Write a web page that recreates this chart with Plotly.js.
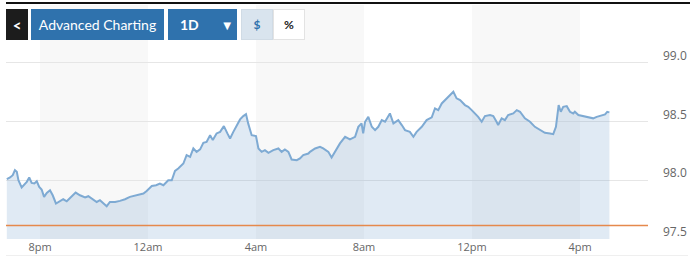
<!DOCTYPE html>
<html>
<head>
<meta charset="utf-8">
<script src="https://cdn.plot.ly/plotly-3.0.1.min.js"></script>
<style>
  html, body { margin: 0; padding: 0; background: #ffffff; }
  #wrap { position: relative; width: 700px; height: 262px; overflow: hidden; }
  #chart { position: absolute; left: 0; top: 0; width: 700px; height: 262px; }
  .bar { position: absolute; box-sizing: border-box; font-family: Lato, "Open Sans", sans-serif; display: flex; align-items: center; justify-content: center; }
  #topline { position: absolute; left: 6px; top: 2px; width: 684px; height: 2px; background: #111; }
  #botline { position: absolute; left: 6px; top: 255px; width: 682px; height: 1px; background: #efefef; }
</style>
</head>
<body>
<div id="wrap">
  <div id="chart"></div>
  <div id="topline"></div>
  <div id="botline"></div>
  <div class="bar" style="left:6px;top:9px;width:22px;height:31px;background:#1c1c1c;color:#fff;font-size:15px;font-weight:bold;">&lt;</div>
  <div class="bar" style="left:31px;top:9px;width:133px;height:31px;background:#2f72ad;color:#fff;font-size:14px;">Advanced Charting</div>
  <div class="bar" style="left:168px;top:9px;width:69px;height:31px;background:#2f72ad;color:#fff;font-size:14px;font-weight:bold;justify-content:flex-start;padding-left:12px;">1D<span style="font-size:13px;margin-left:22px;">&#9660;</span></div>
  <div class="bar" style="left:241px;top:9px;width:32px;height:31px;background:#d9e4ee;border:1px solid #d0dbe5;color:#2f72ad;font-size:12px;font-weight:bold;">$</div>
  <div class="bar" style="left:273px;top:9px;width:32px;height:31px;background:#ffffff;border:1px solid #e3e3e3;color:#222;font-size:12px;font-weight:bold;">%</div>
</div>
<script>
// Time in hours since midnight of the first day (20 = 8pm, 24 = 12am, ... 40 = 4pm next day)
const hours = [
  18.77,18.89,18.99,19.07,19.14,19.20,19.32,19.44,19.51,19.60,19.69,19.79,19.88,19.97,
  20.06,20.15,20.25,20.37,20.47,20.59,20.74,20.86,20.99,21.14,21.32,21.48,21.67,21.79,21.95,
  22.10,22.22,22.34,22.47,22.59,22.78,22.96,23.15,23.33,23.46,23.64,23.83,23.95,
  24.14,24.30,24.44,24.57,24.75,24.88,25.00,25.12,25.31,25.43,25.56,25.68,25.80,25.93,
  26.05,26.17,26.30,26.40,26.54,26.67,26.81,26.94,27.04,27.16,27.29,27.41,27.53,27.63,27.71,27.84,
  28.00,28.09,28.21,28.33,28.46,28.64,28.83,28.95,29.07,29.20,29.32,29.51,29.63,29.75,29.94,
  30.00,30.19,30.37,30.49,30.68,30.80,30.93,31.11,31.30,31.48,31.67,31.79,31.91,31.97,
  32.04,32.16,32.29,32.41,32.53,32.66,32.78,32.96,33.09,33.27,33.40,33.52,33.70,33.83,33.95,
  34.14,34.32,34.51,34.63,34.75,34.88,35.06,35.25,35.31,35.43,35.56,35.74,35.86,35.99,
  36.11,36.23,36.36,36.48,36.67,36.79,36.91,36.97,37.10,37.22,37.34,37.53,37.66,37.78,37.96,
  38.15,38.33,38.52,38.70,38.89,39.01,39.11,39.16,39.21,39.29,39.38,39.51,39.63,39.75,39.81,39.94,
  40.12,40.31,40.49,40.62,40.80,40.93,41.01,41.09
];
const prices = [
  98.009,98.023,98.043,98.085,98.071,98.000,97.938,97.972,97.986,98.023,97.977,97.972,97.991,97.943,
  97.921,97.858,97.892,97.915,97.872,97.802,97.821,97.838,97.821,97.853,97.895,97.872,97.853,97.864,97.836,
  97.815,97.830,97.802,97.779,97.815,97.815,97.824,97.838,97.858,97.866,97.881,97.887,97.909,
  97.951,97.957,97.972,97.957,98.000,98.000,98.079,98.100,98.142,98.213,98.198,98.270,98.241,98.262,
  98.318,98.326,98.383,98.341,98.398,98.411,98.460,98.398,98.355,98.411,98.469,98.517,98.545,98.562,98.483,98.383,
  98.375,98.270,98.241,98.256,98.233,98.256,98.270,98.241,98.262,98.241,98.176,98.170,98.185,98.213,98.227,
  98.241,98.270,98.284,98.270,98.241,98.193,98.241,98.313,98.369,98.347,98.369,98.454,98.483,98.398,
  98.497,98.539,98.454,98.426,98.454,98.511,98.497,98.568,98.483,98.511,98.469,98.426,98.411,98.369,98.411,
  98.454,98.511,98.534,98.611,98.596,98.653,98.696,98.739,98.752,98.696,98.681,98.639,98.624,98.596,
  98.568,98.539,98.497,98.545,98.554,98.545,98.497,98.469,98.526,98.511,98.554,98.568,98.596,98.582,98.526,
  98.497,98.454,98.426,98.403,98.398,98.392,98.454,98.568,98.639,98.582,98.624,98.630,98.582,98.568,98.582,98.554,
  98.545,98.539,98.526,98.539,98.554,98.560,98.582,98.577
];
const previousClose = 97.615;
const shadedBands = [[20, 24], [28, 32], [36, 40]];
const xTickVals = [20, 24, 28, 32, 36, 40];
const xTickText = ['8pm', '12am', '4am', '8am', '12pm', '4pm'];
const yTickVals = [97.5, 98.0, 98.5, 99.0];
const yTickText = ['97.5', '98.0', '98.5', '99.0'];

const shapes = shadedBands.map(b => ({
  type: 'rect', xref: 'x', yref: 'paper', x0: b[0], x1: b[1], y0: 0, y1: 1,
  fillcolor: '#f8f8f8', line: { width: 0 }, layer: 'below'
}));

const trace = {
  x: hours, y: prices, type: 'scatter', mode: 'lines',
  line: { color: '#7eaad3', width: 2 },
  fill: 'tozeroy', fillcolor: 'rgba(122,166,207,0.23)',
  hoverinfo: 'skip'
};
const closeTrace = {
  x: [18.74, 42.52], y: [previousClose, previousClose], type: 'scatter', mode: 'lines',
  line: { color: '#e5894c', width: 1.3 }, hoverinfo: 'skip'
};

const layout = {
  width: 700, height: 262,
  margin: { l: 6, r: 52, t: 5, b: 23, pad: 0 },
  paper_bgcolor: 'rgba(0,0,0,0)', plot_bgcolor: 'rgba(0,0,0,0)',
  showlegend: false,
  xaxis: {
    range: [18.74, 42.52], tickmode: 'array', tickvals: xTickVals, ticktext: xTickText,
    showgrid: false, zeroline: false, showline: false, ticks: '',
    tickfont: { family: '"Open Sans", sans-serif', size: 11, color: '#666' },
    ticklabelstandoff: 0, fixedrange: true
  },
  yaxis: {
    range: [97.5, 99.49], side: 'right', tickmode: 'array', tickvals: yTickVals, ticktext: yTickText,
    showgrid: true, gridcolor: '#e6e6e6', gridwidth: 1, zeroline: false, showline: false, ticks: '',
    tickfont: { family: '"Open Sans", sans-serif', size: 12, color: '#666' },
    ticklabelstandoff: 14, ticklabelshift: -7, fixedrange: true
  },
  shapes: shapes
};

Plotly.newPlot('chart', [trace, closeTrace], layout, { displayModeBar: false, staticPlot: true });
</script>
</body>
</html>
